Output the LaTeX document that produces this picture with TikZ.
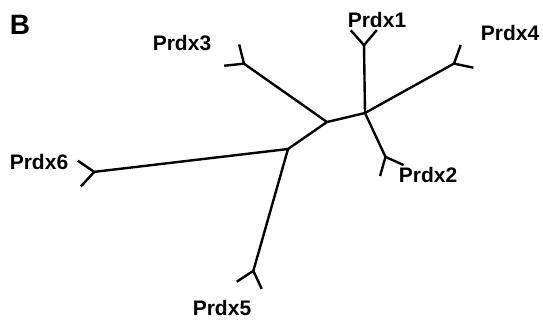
\documentclass[tikz,border=0pt]{standalone}
\usepackage{fontspec}
\setmainfont{Liberation Sans}
\usetikzlibrary{arrows.meta}
\def\treewidth{2.4pt}
\def\tiplength{15pt}

\begin{document}
\begin{tikzpicture}[x=1pt, y=-1pt, line width=\treewidth, line join=round,
    nodes = {font=\bfseries\fontsize{21}{21}\selectfont, inner sep=0pt},
    leaf/.style = {-{Straight Barb[reversed, length=\tiplength, width=26pt]},
      shorten >=-\tiplength}]
  \useasboundingbox (0,0) rectangle (543,325);
  \node (panel) at (20,25) {\fontsize{28}{28}\selectfont B};
  % inner nodes of the tree
  \coordinate (mid) at (327,122);
  \coordinate (right) at (365,113);
  \coordinate (left) at (288,149);
  \draw (left) -- (mid) -- (right);
  % leaves: name / parent / fork / label
  \foreach \name/\from/\fork/\lab in {
      Prdx1/right/{364,44}/{377,20},
      Prdx4/right/{455,63}/{510,33},
      Prdx2/right/{386,158}/{428,175},
      Prdx3/mid/{243,63}/{182,43},
      Prdx6/left/{93,172}/{39,162},
      Prdx5/left/{253,272}/{222,308}} {
    \coordinate (\name fork) at (\fork);
    \draw[leaf] (\from) -- (\name fork);
    \node (\name) at (\lab) {\name};
  }
\end{tikzpicture}
\end{document}
